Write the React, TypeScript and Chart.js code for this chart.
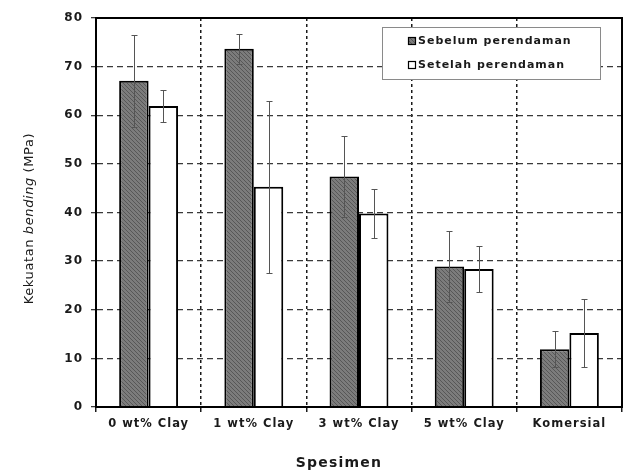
import React, { useEffect, useRef } from "react";
import { Chart, registerables } from "chart.js";

Chart.register(...registerables);

const categories = ["0 wt% Clay", "1 wt% Clay", "3 wt% Clay", "5 wt% Clay", "Komersial"];
const seriesLabels = ["Sebelum perendaman", "Setelah perendaman"];
const sebelumValues = [67.1, 73.7, 47.4, 28.9, 11.9];
const sebelumErrors = [9.5, 3.1, 8.3, 7.3, 3.7];
const setelahValues = [61.9, 45.3, 39.8, 28.4, 15.2];
const setelahErrors = [3.2, 17.7, 5.0, 4.8, 7.0];
const yMin = 0;
const yMax = 80;
const yStep = 10;
const yTitleParts = ["Kekuatan ", "bending", " (MPa)"];
const xTitle = "Spesimen";

const FONT = "'DejaVu Sans', sans-serif";
const errorArrays = [sebelumErrors, setelahErrors];

function makeHatch(ctx: CanvasRenderingContext2D) {
  const c = document.createElement("canvas");
  c.width = 4;
  c.height = 4;
  const g = c.getContext("2d")!;
  g.fillStyle = "#7c7c7c";
  g.fillRect(0, 0, 4, 4);
  g.strokeStyle = "#575757";
  g.lineWidth = 1;
  g.beginPath();
  g.moveTo(0, 0);
  g.lineTo(4, 4);
  g.moveTo(-1, 3);
  g.lineTo(1, 5);
  g.moveTo(3, -1);
  g.lineTo(5, 1);
  g.stroke();
  return ctx.createPattern(c, "repeat");
}

const spacingPlugin = {
  id: "spacing",
  beforeDraw(chart: any) {
    (chart.ctx as any).letterSpacing = "1px";
  },
};

const errorBarPlugin = {
  id: "errorBars",
  afterDatasetsDraw(chart: any) {
    const ctx = chart.ctx;
    const y = chart.scales.y;
    ctx.save();
    ctx.strokeStyle = "#555555";
    ctx.lineWidth = 1;
    chart.data.datasets.forEach((ds: any, di: number) => {
      const meta = chart.getDatasetMeta(di);
      const errs = errorArrays[di];
      meta.data.forEach((bar: any, i: number) => {
        const v = ds.data[i];
        const e = errs[i];
        const x = Math.round(bar.x) + 0.5;
        const yt = Math.round(y.getPixelForValue(v + e)) + 0.5;
        const yb = Math.round(y.getPixelForValue(v - e)) + 0.5;
        ctx.beginPath();
        ctx.moveTo(x, yt);
        ctx.lineTo(x, yb);
        ctx.moveTo(x - 3, yt);
        ctx.lineTo(x + 3, yt);
        ctx.moveTo(x - 3, yb);
        ctx.lineTo(x + 3, yb);
        ctx.stroke();
      });
    });
    ctx.restore();
  },
};

const framePlugin = {
  id: "frame",
  afterDatasetsDraw(chart: any) {
    const { ctx, chartArea } = chart;
    ctx.save();
    ctx.strokeStyle = "#000";
    ctx.lineWidth = 2;
    ctx.strokeRect(chartArea.left, chartArea.top, chartArea.right - chartArea.left, chartArea.bottom - chartArea.top);
    ctx.restore();
  },
};

const legendPlugin = {
  id: "customLegend",
  afterDraw(chart: any) {
    const { ctx, chartArea } = chart;
    const bw = 218;
    const bh = 52;
    const bx = chartArea.right - 22 - bw;
    const by = chartArea.top + 9;
    ctx.save();
    ctx.fillStyle = "#ffffff";
    ctx.fillRect(bx, by, bw, bh);
    ctx.strokeStyle = "#8a8a8a";
    ctx.lineWidth = 1;
    ctx.strokeRect(bx + 0.5, by + 0.5, bw, bh);
    const datasets = chart.data.datasets;
    datasets.forEach((ds: any, i: number) => {
      const cy = by + 14 + i * 24;
      const mx = bx + 26;
      ctx.fillStyle = ds.backgroundColor;
      ctx.fillRect(mx, cy - 4, 8, 8);
      ctx.strokeStyle = "#000";
      ctx.lineWidth = 1.2;
      ctx.strokeRect(mx + 0.5, cy - 3.5, 7, 7);
      ctx.fillStyle = "#1a1a1a";
      ctx.font = `bold 11px ${FONT}`;
      (ctx as any).letterSpacing = "1px";
      ctx.textBaseline = "middle";
      ctx.textAlign = "left";
      ctx.fillText(ds.label, mx + 10, cy);
    });
    ctx.restore();
  },
};

const titlesPlugin = {
  id: "axisTitles",
  afterDraw(chart: any) {
    const { ctx, chartArea } = chart;
    ctx.save();
    ctx.fillStyle = "#1a1a1a";
    // Y title (rotated, with italic middle word)
    const fonts = [`13px ${FONT}`, `italic 13px ${FONT}`, `13px ${FONT}`];
    (ctx as any).letterSpacing = "0.6px";
    let total = 0;
    const widths = yTitleParts.map((p, i) => {
      ctx.font = fonts[i];
      const w = ctx.measureText(p).width;
      total += w;
      return w;
    });
    ctx.translate(30, (chartArea.top + chartArea.bottom) / 2 + 6);
    ctx.rotate(-Math.PI / 2);
    ctx.textBaseline = "middle";
    ctx.textAlign = "left";
    let x = -total / 2;
    yTitleParts.forEach((p, i) => {
      ctx.font = fonts[i];
      ctx.fillText(p, x, 0);
      x += widths[i];
    });
    ctx.setTransform(1, 0, 0, 1, 0, 0);
    // X title
    ctx.font = `bold 14px ${FONT}`;
    (ctx as any).letterSpacing = "1.2px";
    ctx.textAlign = "center";
    ctx.textBaseline = "middle";
    ctx.fillText(xTitle, (chartArea.left + chartArea.right) / 2 - 20, 463);
    ctx.restore();
  },
};

export default function App() {
  const canvasRef = useRef<HTMLCanvasElement | null>(null);

  useEffect(() => {
    const canvas = canvasRef.current!;
    const ctx = canvas.getContext("2d")!;
    const hatch = makeHatch(ctx);
    const chart = new Chart(ctx, {
      type: "bar",
      data: {
        labels: categories,
        datasets: [
          {
            label: seriesLabels[0],
            data: sebelumValues,
            backgroundColor: hatch as any,
            borderColor: "#000000",
            borderWidth: 2,
            borderSkipped: "bottom",
          },
          {
            label: seriesLabels[1],
            data: setelahValues,
            backgroundColor: "#ffffff",
            borderColor: "#000000",
            borderWidth: 2,
            borderSkipped: "bottom",
          },
        ],
      },
      options: {
        responsive: true,
        maintainAspectRatio: false,
        animation: false,
        devicePixelRatio: 1,
        layout: { padding: { top: 18, right: 5, bottom: 0, left: 0 } },
        datasets: { bar: { categoryPercentage: 0.56, barPercentage: 1.0 } },
        plugins: {
          legend: { display: false },
          tooltip: { enabled: false },
          title: { display: false },
        },
        scales: {
          x: {
            offset: true,
            grid: {
              offset: true,
              color: "#1a1a1a",
              lineWidth: 1.5,
              tickLength: 5,
              drawTicks: true,
            },
            border: { display: true, color: "#000", width: 2, dash: [3, 3] },
            ticks: {
              color: "#1a1a1a",
              font: { family: FONT, size: 11.5, weight: "bold" },
              padding: 5,
              maxRotation: 0,
              autoSkip: false,
            },
            afterFit: (scale: any) => {
              scale.height = 64;
            },
          },
          y: {
            min: yMin,
            max: yMax,
            ticks: {
              stepSize: yStep,
              color: "#1a1a1a",
              font: { family: FONT, size: 12, weight: "bold" },
              padding: 8,
            },
            grid: {
              color: "#3a3a3a",
              lineWidth: 1.3,
              tickLength: 5,
              drawTicks: true,
            },
            border: { display: true, color: "#000", width: 2, dash: [6, 4] },
            afterFit: (scale: any) => {
              scale.width = 96;
            },
          },
        },
      },
      plugins: [spacingPlugin, framePlugin, errorBarPlugin, legendPlugin, titlesPlugin],
    });
    return () => chart.destroy();
  }, []);

  return (
    <div style={{ position: "fixed", left: 0, top: 0, width: 627, height: 471, background: "#fff" }}>
      <canvas ref={canvasRef} />
    </div>
  );
}
